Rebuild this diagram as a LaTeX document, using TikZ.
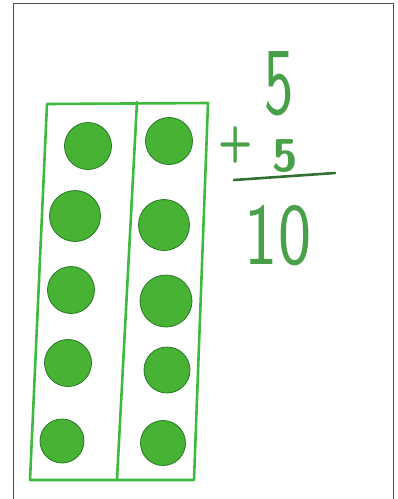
\documentclass[tikz,border=0pt]{standalone}
\usepackage{tikz}
\usetikzlibrary{positioning, calc}
\definecolor{framegreen}{RGB}{62,186,62}
\definecolor{dotgreen}{RGB}{72,178,52}
\definecolor{dotedge}{RGB}{38,120,38}
\definecolor{inkgreen}{RGB}{72,160,72}

\begin{document}
\begin{tikzpicture}[
    x=1pt, y=-1pt,
    paper/.style={draw=black!70, line width=1pt},
    frameline/.style={draw=framegreen, line width=2.6pt, line join=round, line cap=round},
    counter/.style={draw=dotedge, thick, circle, fill=dotgreen, inner sep=0pt, minimum size=47pt},
    digit/.style={text=inkgreen, font=\sffamily, inner sep=0pt},
    sumline/.style={draw=inkgreen!70!black, line width=2.6pt, line cap=round}
]
\useasboundingbox (0,0) rectangle (398,499);

% Blatt
\draw[paper] (13,510) -- (13,3) -- (393,3) -- (393,510);

% Zehnerfeld
\coordinate (tl) at (47,104);
\coordinate (tm) at (137,102);
\coordinate (tr) at (208,103);
\coordinate (br) at (194,480);
\coordinate (bm) at (117,479);
\coordinate (bl) at (30,480);
\draw[frameline] (tl) -- (tr) -- (br) -- (bl) -- cycle;
\draw[frameline] (tm) -- (bm);

% Punkte
\node[counter] (l1) at (88,146) {};
\node[counter, minimum size=51pt] (l2) at (75,216) {};
\node[counter] (l3) at (71,290) {};
\node[counter] (l4) at (68,363) {};
\node[counter, minimum size=44pt] (l5) at (62,441) {};
\node[counter] (r1) at (169,141) {};
\node[counter, minimum size=51pt] (r2) at (164,225) {};
\node[counter, minimum size=52pt] (r3) at (166,301) {};
\node[counter, minimum size=46pt] (r4) at (167,370) {};
\node[counter, minimum size=45pt] (r5) at (163,443) {};

% Rechnung
\node[digit, font=\sffamily\fontsize{96}{96}\selectfont, xscale=0.65] (top) at (279,84) {5};
\node[digit, font=\sffamily\bfseries\fontsize{50}{50}\selectfont, xscale=0.8] (plus) at (236,145) {+};
\node[digit, font=\sffamily\bfseries\fontsize{46}{46}\selectfont] (bot) at (285,156) {5};
\coordinate (sl) at (234,180);
\coordinate (sr) at (335,173);
\draw[sumline] (sl) -- (sr);
\node[digit, font=\sffamily\fontsize{88}{88}\selectfont, xscale=0.8] (res) at (278,236) {10};

\end{tikzpicture}
\end{document}
